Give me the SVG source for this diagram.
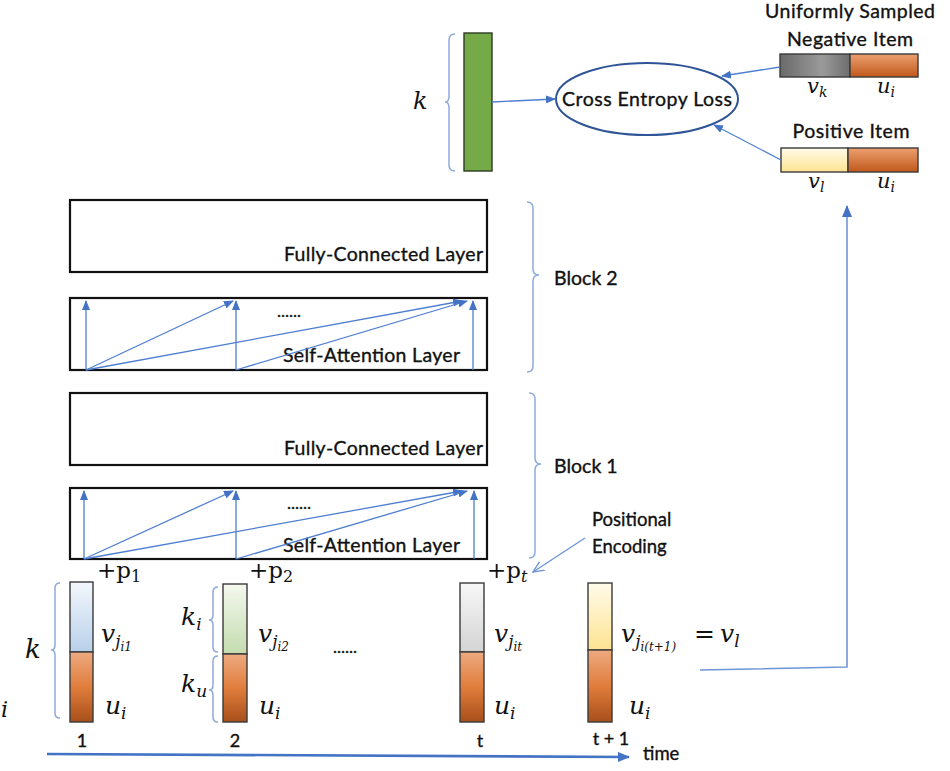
<svg xmlns="http://www.w3.org/2000/svg" width="950" height="771" viewBox="0 0 950 771">
<style>
.t{font-family:Lato,"Open Sans","Liberation Sans",sans-serif;fill:#111;stroke:#111;stroke-width:0.35;}
.m{font-family:"DejaVu Serif","Liberation Serif",serif;font-style:italic;fill:#111;}
.r{font-family:"DejaVu Serif","Liberation Serif",serif;fill:#111;}
.box{fill:#fff;stroke:#111;stroke-width:2.2;}
.bar{stroke:#3a3a3a;stroke-width:1.4;}
.br{fill:none;stroke:#8eaadb;stroke-width:1.5;}
.ar{fill:none;stroke:#4f7fd0;stroke-width:1.3;marker-end:url(#ah);}
</style>
<defs>
<marker id="ah" markerUnits="userSpaceOnUse" markerWidth="10" markerHeight="8" refX="9" refY="4" orient="auto"><path d="M0,0 L10,4 L0,8 z" fill="#4472c4"/></marker>
<marker id="ah2" markerUnits="userSpaceOnUse" markerWidth="12" markerHeight="10" refX="11" refY="5" orient="auto"><path d="M0,0 L12,5 L0,10 z" fill="#4472c4"/></marker>
<marker id="ao" markerUnits="userSpaceOnUse" markerWidth="12" markerHeight="12" refX="11" refY="6" orient="auto"><path d="M0,1 L11,6 L0,11" fill="none" stroke="#6f96d8" stroke-width="1.4"/></marker>
<linearGradient id="gOr" x1="0" y1="0" x2="0" y2="1"><stop offset="0" stop-color="#eeaa80"/><stop offset="0.5" stop-color="#e07d3c"/><stop offset="1" stop-color="#a84f1b"/></linearGradient>
<linearGradient id="gBl" x1="0" y1="0" x2="0" y2="1"><stop offset="0" stop-color="#f3f7fc"/><stop offset="1" stop-color="#b8d0ea"/></linearGradient>
<linearGradient id="gGr" x1="0" y1="0" x2="0" y2="1"><stop offset="0" stop-color="#f4f8ef"/><stop offset="1" stop-color="#c3dcae"/></linearGradient>
<linearGradient id="gGy" x1="0" y1="0" x2="0" y2="1"><stop offset="0" stop-color="#f7f7f7"/><stop offset="1" stop-color="#d4d4d4"/></linearGradient>
<linearGradient id="gYe" x1="0" y1="0" x2="0" y2="1"><stop offset="0" stop-color="#fffbea"/><stop offset="1" stop-color="#fde391"/></linearGradient>
<linearGradient id="gDk" x1="0" y1="0" x2="1" y2="0"><stop offset="0" stop-color="#6a6a6a"/><stop offset="0.6" stop-color="#9a9a9a"/><stop offset="1" stop-color="#6e6e6e"/></linearGradient>
<linearGradient id="gOrH" x1="0" y1="0" x2="0" y2="1"><stop offset="0" stop-color="#eca070"/><stop offset="1" stop-color="#c0581a"/></linearGradient>
</defs>

<g id="negative-item">
<text class="t" x="850" y="18" font-size="19.5" text-anchor="middle" textLength="170">Uniformly Sampled</text>
<text class="t" x="850" y="46" font-size="19.5" text-anchor="middle" textLength="126">Negative Item</text>
<rect class="bar" x="780" y="54" width="70" height="23" fill="url(#gDk)"/>
<rect class="bar" x="850" y="54" width="68" height="23" fill="url(#gOrH)"/>
<text class="m" x="807" y="93" font-size="21">v<tspan font-size="14" dy="4">k</tspan></text>
<text class="m" x="877" y="93" font-size="21">u<tspan font-size="14" dy="4">i</tspan></text>
</g>

<g id="positive-item">
<text class="t" x="851" y="138" font-size="19.5" text-anchor="middle" textLength="117">Positive Item</text>
<rect class="bar" x="781" y="148" width="67" height="24" fill="url(#gYe)"/>
<rect class="bar" x="848" y="148" width="70" height="24" fill="url(#gOrH)"/>
<text class="m" x="808" y="188" font-size="21">v<tspan font-size="14" dy="4">l</tspan></text>
<text class="m" x="877" y="188" font-size="21">u<tspan font-size="14" dy="4">i</tspan></text>
</g>

<g id="output-vector">
<path class="br" d="M455,34 Q449,34 449,40 L449,96 Q449,102 445,102 Q449,102 449,108 L449,165 Q449,171 455,171"/>
<text class="m" x="413" y="109" font-size="24">k</text>
<rect x="464" y="33" width="28" height="138" fill="#76a947" stroke="#2d3b22" stroke-width="1.4"/>
</g>

<g id="cross-entropy-loss">
<ellipse cx="647" cy="99" rx="91" ry="36" fill="#fff" stroke="#2f5597" stroke-width="2"/>
<text class="t" x="647" y="106" font-size="19.5" text-anchor="middle" textLength="170">Cross Entropy Loss</text>
</g>

<g id="block2">
<g id="block2-fc">
<rect class="box" x="70" y="200" width="417" height="72"/>
<text class="t" x="483" y="261" font-size="19.5" text-anchor="end" textLength="199">Fully-Connected Layer</text>
</g>
<g id="block2-sa">
<rect class="box" x="70" y="298" width="417" height="72"/>
<text class="t" x="460" y="362" font-size="19.5" text-anchor="end" textLength="177">Self-Attention Layer</text>
<text class="t" x="277" y="317" font-size="17">......</text>
</g>
<path class="br" d="M527,202 Q533,202 533,208 L533,269 Q533,275 539,275 Q533,275 533,281 L533,366 Q533,372 527,372"/>
<text class="t" x="554" y="285" font-size="19.5">Block 2</text>
</g>

<g id="block1">
<g id="block1-fc">
<rect class="box" x="70" y="393" width="417" height="72"/>
<text class="t" x="483" y="455" font-size="19.5" text-anchor="end" textLength="199">Fully-Connected Layer</text>
</g>
<g id="block1-sa">
<rect class="box" x="70" y="488" width="417" height="71"/>
<text class="t" x="460" y="552" font-size="19.5" text-anchor="end" textLength="177">Self-Attention Layer</text>
<text class="t" x="287" y="509" font-size="17">......</text>
</g>
<path class="br" d="M529,393 Q535,393 535,399 L535,458 Q535,464 541,464 Q535,464 535,470 L535,552 Q535,558 529,558"/>
<text class="t" x="554" y="473" font-size="19.5">Block 1</text>
</g>

<g id="positional-encoding">
<text class="t" x="592" y="526" font-size="18.5">Positional</text>
<text class="t" x="592" y="553" font-size="18.5">Encoding</text>
</g>

<g id="col1">
<path class="br" d="M60,583 Q55,583 55,588 L55,645 Q55,650 51,650 Q55,650 55,655 L55,713 Q55,718 60,718"/>
<text class="m" x="25" y="658" font-size="26">k</text>
<rect class="bar" x="70" y="582" width="23" height="70" fill="url(#gBl)"/>
<rect class="bar" x="70" y="652" width="23" height="70" fill="url(#gOr)"/>
<text class="r" x="97" y="578" font-size="23">+p<tspan font-size="16" dy="4">1</tspan></text>
<text class="m" x="101" y="642" font-size="25">v<tspan font-size="17" dy="5">j</tspan><tspan font-size="12" dy="4">i1</tspan></text>
<text class="m" x="105" y="714" font-size="25">u<tspan font-size="17" dy="5">i</tspan></text>
<text class="t" x="82" y="747" font-size="18" text-anchor="middle">1</text>
</g>

<g id="col2">
<path class="br" d="M218,587 Q213,587 213,592 L213,615 Q213,620 209,620 Q213,620 213,625 L213,647 Q213,652 218,652"/>
<path class="br" d="M218,656 Q213,656 213,661 L213,685 Q213,690 209,690 Q213,690 213,695 L213,717 Q213,722 218,722"/>
<text class="m" x="181" y="625" font-size="25">k<tspan font-size="17" dy="5">i</tspan></text>
<text class="m" x="181" y="692" font-size="25">k<tspan font-size="17" dy="5">u</tspan></text>
<rect class="bar" x="223" y="584" width="24" height="70" fill="url(#gGr)"/>
<rect class="bar" x="223" y="654" width="24" height="68" fill="url(#gOr)"/>
<text class="r" x="249" y="578" font-size="23">+p<tspan font-size="16" dy="4">2</tspan></text>
<text class="m" x="258" y="642" font-size="25">v<tspan font-size="17" dy="5">j</tspan><tspan font-size="12" dy="4">i2</tspan></text>
<text class="m" x="259" y="714" font-size="25">u<tspan font-size="17" dy="5">i</tspan></text>
<text class="t" x="235" y="747" font-size="18" text-anchor="middle">2</text>
</g>

<text class="t" x="333" y="653" font-size="17">......</text>

<g id="colt">
<rect class="bar" x="460" y="583" width="24" height="69" fill="url(#gGy)"/>
<rect class="bar" x="460" y="652" width="24" height="70" fill="url(#gOr)"/>
<text class="r" x="487" y="578" font-size="23">+p<tspan class="m" font-size="16" dy="4">t</tspan></text>
<text class="m" x="494" y="642" font-size="25">v<tspan font-size="17" dy="5">j</tspan><tspan font-size="12" dy="4">it</tspan></text>
<text class="m" x="494" y="714" font-size="25">u<tspan font-size="17" dy="5">i</tspan></text>
<text class="t" x="480" y="747" font-size="18" text-anchor="middle">t</text>
</g>

<g id="colt1">
<rect class="bar" x="588" y="583" width="24" height="67" fill="url(#gYe)"/>
<rect class="bar" x="588" y="650" width="24" height="72" fill="url(#gOr)"/>
<text class="m" x="621" y="642" font-size="25">v<tspan font-size="17" dy="5">j</tspan><tspan font-size="12" dy="4">i(t+1)</tspan></text>
<text class="r" x="694" y="642" font-size="25">=</text>
<text class="m" x="720" y="642" font-size="25">v<tspan font-size="17" dy="5">l</tspan></text>
<text class="m" x="629" y="714" font-size="25">u<tspan font-size="17" dy="5">i</tspan></text>
<text class="t" x="611" y="745" font-size="18" text-anchor="middle">t + 1</text>
</g>

<text class="m" x="1" y="717" font-size="22">i</text>
<text class="t" x="643" y="760" font-size="18.5">time</text>

<g id="connectors">
<path class="ar" d="M492,102 L555,99"/>
<path class="ar" d="M780,67 L722,76"/>
<path class="ar" d="M781,160 L714,125"/>
<path class="ar" d="M86,370 L86,301"/>
<path class="ar" d="M86,370 L233,301"/>
<path class="ar" d="M236,370 L236,301"/>
<path class="ar" d="M86,370 L462,301"/>
<path class="ar" d="M236,370 L467,301"/>
<path class="ar" d="M473,370 L473,301"/>
<path class="ar" d="M84,559 L84,491"/>
<path class="ar" d="M84,559 L233,491"/>
<path class="ar" d="M236,559 L236,491"/>
<path class="ar" d="M84,559 L462,491"/>
<path class="ar" d="M236,559 L467,491"/>
<path class="ar" d="M474,559 L474,491"/>
<path d="M585,538 L533,572" fill="none" stroke="#6f96d8" stroke-width="1.4" marker-end="url(#ao)"/>
<path d="M700,670 L847,667 L847,206" fill="none" stroke="#6f96d8" stroke-width="1.6" marker-end="url(#ah2)"/>
<path d="M47,754 L629,757" fill="none" stroke="#4472c4" stroke-width="2.6" marker-end="url(#ah2)"/>
</g>
</svg>
